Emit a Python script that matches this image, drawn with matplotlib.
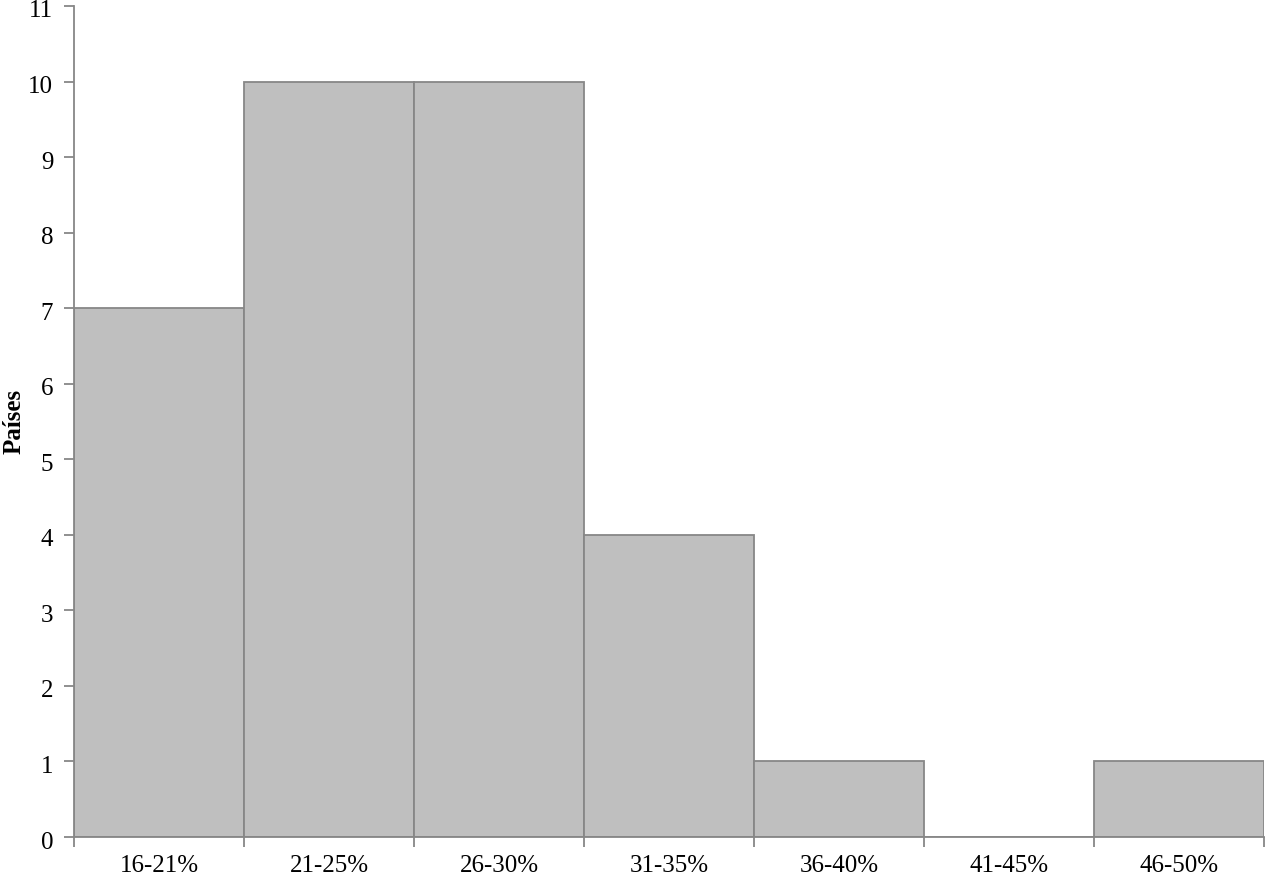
import numpy as np
from matplotlib import pyplot as plt
from matplotlib import transforms

plt.rcParams['font.family'] = ['Liberation Serif', 'DejaVu Serif']

categories = ['16-21%', '21-25%', '26-30%', '31-35%', '36-40%', '41-45%', '46-50%']
countries = [7, 10, 10, 4, 1, 0, 1]

edge_gray = '#878787'

fig = plt.figure(figsize=(12.66, 8.76), dpi=100)
ax = fig.add_axes([0.0585, 0.0445, 0.94, 0.9487])

x = np.arange(len(categories))
ax.bar(x, countries, width=1.0, align='edge', color='#bfbfbf',
       edgecolor=edge_gray, linewidth=1.3)

ax.set_xlim(0, len(categories))
ax.set_ylim(0, 11)
ax.set_yticks(range(0, 12))

# ticks on bin edges, labels centered in bins
ax.set_xticks(np.arange(len(categories) + 1))
ax.set_xticklabels([])
ax.set_xticks(x + 0.5, minor=True)
ax.set_xticklabels(categories, minor=True)
ax.tick_params(axis='x', which='major', length=7, width=1.3, color=edge_gray, direction='out')
ax.tick_params(axis='x', which='minor', length=0, pad=13, labelsize=18)
ax.tick_params(axis='y', length=7, width=1.3, color=edge_gray, direction='out', labelsize=18, pad=8)

# y labels sit a little below their ticks in the original
shift = transforms.ScaledTranslation(0, -3 / 100, fig.dpi_scale_trans)
for lab in ax.get_yticklabels():
    lab.set_transform(lab.get_transform() + shift)

for side in ['top', 'right']:
    ax.spines[side].set_visible(False)
for side in ['left', 'bottom']:
    ax.spines[side].set_color(edge_gray)
    ax.spines[side].set_linewidth(1.3)

ax.set_ylabel('Países', fontsize=18, fontweight='bold')
ax.yaxis.set_label_coords(-0.041, 0.5)

fig.savefig('out.png', dpi=100)
